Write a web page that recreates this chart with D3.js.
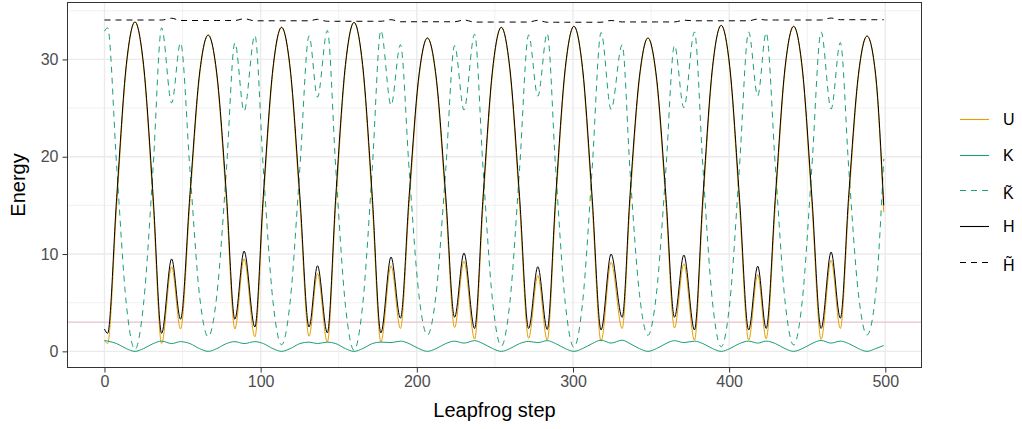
<!DOCTYPE html>
<html>
<head>
<meta charset="utf-8">
<script src="https://cdn.jsdelivr.net/npm/d3@7"></script>
<style>
body { margin: 0; background: #fff; }
svg { display: block; }
text { font-family: "Liberation Sans", Arial, sans-serif; }
</style>
</head>
<body>
<div id="chart"></div>
<script>
const steps = [0, 2, 7.8, 14.0, 19.5, 25.0, 31.2, 36.6, 43.0, 48.7,
  54.7, 60.9, 66.4, 71.9, 78.1, 83.5, 89.4, 96.3,
  101.7, 107.9, 113.4, 118.9, 125.1, 131.0, 136.4, 142.7,
  148.1, 154.3, 159.8, 165.3, 171.5, 177.0, 183.5, 189.5,
  195.1, 201.3, 206.8, 212.3, 218.5, 224.2, 230.2, 237.0,
  242.4, 248.6, 254.1, 259.6, 265.8, 271.6, 277.5, 283.5,
  288.9, 295.1, 300.6, 306.1, 312.3, 318.0, 324.4, 331.5,
  336.5, 342.6, 348.0, 353.4, 359.5, 365.0, 371.0, 377.8,
  383.2, 389.4, 394.9, 400.4, 406.6, 412.5, 418.3, 423.7,
  429.6, 435.8, 441.3, 446.8, 453.0, 458.9, 465.3, 471.2,
  476.6, 482.8, 488.3, 493.8, 499];

const uVals = [1.15, 0.8, 15.0, 29.2, 33.85, 29.2, 15.0, 0.8, 8.7, 2.3,
  15.3, 28.3, 32.5, 28.3, 15.3, 2.3, 9.5, 1.5,
  15.2, 28.85, 33.3, 28.85, 15.2, 1.55, 8.0, 0.95,
  15.1, 29.2, 33.8, 29.2, 15.1, 0.95, 8.8, 2.35,
  15.2, 28.0, 32.2, 28.05, 15.25, 2.45, 9.25, 1.25,
  15.0, 28.8, 33.3, 28.8, 15.1, 1.33, 7.8, 1.15,
  15.0, 28.9, 33.4, 28.9, 15.0, 1.05, 9.15, 2.35,
  15.2, 28.0, 32.2, 28.0, 15.2, 2.4, 9.0, 1.15,
  15.05, 29.0, 33.5, 29.0, 15.05, 1.15, 7.9, 1.3,
  15.1, 28.9, 33.4, 28.9, 15.05, 1.23, 9.35, 2.35,
  15.3, 28.2, 32.4, 28.2, 14.3];

const kVals = [1.1, 1.05, 0.8, 0.28, 0, 0.28, 0.8, 1.05, 0.8, 1.0,
  0.8, 0.28, 0, 0.28, 0.8, 1.0, 0.8, 1.0,
  0.8, 0.28, 0, 0.28, 0.8, 0.95, 0.8, 0.95,
  0.8, 0.28, 0, 0.28, 0.8, 0.95, 0.9, 1.05,
  0.8, 0.28, 0, 0.28, 0.8, 1.05, 0.85, 1.1,
  0.8, 0.28, 0, 0.28, 0.8, 1.02, 0.9, 1.1,
  0.8, 0.28, 0, 0.28, 0.8, 1.15, 0.85, 1.15,
  0.8, 0.28, 0, 0.28, 0.8, 1.1, 0.9, 1.05,
  0.8, 0.28, 0, 0.28, 0.8, 1.05, 0.85, 1.05,
  0.8, 0.28, 0, 0.28, 0.8, 1.12, 0.85, 1.05,
  0.8, 0.28, 0, 0.28, 0.6];

const ktVals = [32.9, 33.25, 19.05, 4.85, 0.2, 4.85, 19.05, 33.25, 25.53, 31.7,
  18.7, 5.7, 1.5, 5.7, 18.7, 31.7, 24.68, 32.47,
  18.77, 5.12, 0.67, 5.12, 18.77, 32.42, 26.12, 32.97,
  18.82, 4.72, 0.12, 4.72, 18.82, 32.97, 25.28, 31.52,
  18.67, 5.87, 1.67, 5.82, 18.62, 31.42, 24.8, 32.59,
  18.84, 5.04, 0.54, 5.04, 18.74, 32.51, 26.22, 32.67,
  18.82, 4.92, 0.42, 4.92, 18.82, 32.77, 24.85, 31.5,
  18.65, 5.85, 1.65, 5.85, 18.65, 31.45, 25.03, 32.82,
  18.92, 4.97, 0.47, 4.97, 18.92, 32.82, 26.25, 32.75,
  18.95, 5.15, 0.65, 5.15, 19.0, 32.82, 24.9, 31.73,
  18.78, 5.88, 1.68, 5.88, 19.78];

const hVals = [2.3, 1.85, 15.8, 29.5, 33.85, 29.5, 15.8, 1.85, 9.5, 3.3,
  16.1, 28.6, 32.5, 28.6, 16.1, 3.3, 10.3, 2.5,
  16.0, 29.13, 33.3, 29.13, 16.0, 2.5, 8.8, 1.9,
  15.9, 29.48, 33.8, 29.48, 15.9, 1.9, 9.7, 3.4,
  16.0, 28.28, 32.2, 28.33, 16.05, 3.5, 10.1, 2.35,
  15.8, 29.08, 33.3, 29.08, 15.9, 2.35, 8.7, 2.25,
  15.8, 29.18, 33.4, 29.18, 15.8, 2.2, 10.0, 3.5,
  16.0, 28.28, 32.2, 28.28, 16.0, 3.5, 9.9, 2.2,
  15.85, 29.28, 33.5, 29.28, 15.85, 2.2, 8.75, 2.35,
  15.9, 29.18, 33.4, 29.18, 15.85, 2.35, 10.2, 3.4,
  16.1, 28.48, 32.4, 28.48, 15.0];

const htVals = [34.05, 34.05, 34.05, 34.05, 34.05, 34.05, 34.05, 34.05, 34.23, 34.0,
  34.0, 34.0, 34.0, 34.0, 34.0, 34.0, 34.18, 33.97,
  33.97, 33.97, 33.97, 33.97, 33.97, 33.97, 34.12, 33.92,
  33.92, 33.92, 33.92, 33.92, 33.92, 33.92, 34.08, 33.87,
  33.87, 33.87, 33.87, 33.87, 33.87, 33.87, 34.05, 33.84,
  33.84, 33.84, 33.84, 33.84, 33.84, 33.84, 34.02, 33.82,
  33.82, 33.82, 33.82, 33.82, 33.82, 33.82, 34.0, 33.85,
  33.85, 33.85, 33.85, 33.85, 33.85, 33.85, 34.03, 33.97,
  33.97, 33.97, 33.97, 33.97, 33.97, 33.97, 34.15, 34.05,
  34.05, 34.05, 34.05, 34.05, 34.05, 34.05, 34.25, 34.08,
  34.08, 34.08, 34.08, 34.08, 34.08];

const refLevel = 3.0;
const xTicks = [0, 100, 200, 300, 400, 500];
const yTicks = [0, 10, 20, 30];
const legendLabels = ["U", "K", "K\u0303", "H", "H\u0303"];

const series = [
  { label: legendLabels[0], values: uVals, color: "#E69F00", dash: null },
  { label: legendLabels[1], values: kVals, color: "#1B9E77", dash: null },
  { label: legendLabels[2], values: ktVals, color: "#1B9E77", dash: "6,5" },
  { label: legendLabels[3], values: hVals, color: "#000000", dash: null },
  { label: legendLabels[4], values: htVals, color: "#000000", dash: "6,5" }
];

const width = 1022, height = 429;
const panel = { left: 67, right: 922, top: 2, bottom: 368 };

const svg = d3.select("#chart").append("svg")
  .attr("width", width)
  .attr("height", height);

const x = d3.scaleLinear().domain([-24, 523.5]).range([panel.left, panel.right]);
const y = d3.scaleLinear().domain([-1.71, 35.9]).range([panel.bottom, panel.top]);

// grid (theme_bw style)
const grid = svg.append("g");
const xMinor = d3.range(50, 500, 100);
const yMinor = [5, 15, 25, 35];
grid.selectAll(".xminor").data(xMinor).enter().append("line")
  .attr("x1", d => x(d)).attr("x2", d => x(d))
  .attr("y1", panel.top).attr("y2", panel.bottom)
  .attr("stroke", "#EBEBEB").attr("stroke-width", 0.7);
grid.selectAll(".yminor").data(yMinor).enter().append("line")
  .attr("x1", panel.left).attr("x2", panel.right)
  .attr("y1", d => y(d)).attr("y2", d => y(d))
  .attr("stroke", "#EBEBEB").attr("stroke-width", 0.7);
grid.selectAll(".xmajor").data(xTicks).enter().append("line")
  .attr("x1", d => x(d)).attr("x2", d => x(d))
  .attr("y1", panel.top).attr("y2", panel.bottom)
  .attr("stroke", "#EBEBEB").attr("stroke-width", 1.4);
grid.selectAll(".ymajor").data(yTicks).enter().append("line")
  .attr("x1", panel.left).attr("x2", panel.right)
  .attr("y1", d => y(d)).attr("y2", d => y(d))
  .attr("stroke", "#EBEBEB").attr("stroke-width", 1.4);

// reference line
svg.append("line")
  .attr("x1", panel.left).attr("x2", panel.right)
  .attr("y1", y(refLevel)).attr("y2", y(refLevel))
  .attr("stroke", "#E6C3CB").attr("stroke-width", 1.1);

// curves
const line = d3.line()
  .x((d, i) => x(steps[i]))
  .y(d => y(d))
  .curve(d3.curveMonotoneX);

svg.append("g").selectAll("path")
  .data(series)
  .enter()
  .append("path")
  .attr("d", d => line(d.values))
  .attr("fill", "none")
  .attr("stroke", d => d.color)
  .attr("stroke-width", 1)
  .attr("stroke-dasharray", d => d.dash);

// panel border
svg.append("rect")
  .attr("x", panel.left + 0.5).attr("y", panel.top + 0.5)
  .attr("width", panel.right - panel.left - 1)
  .attr("height", panel.bottom - panel.top - 1)
  .attr("fill", "none").attr("stroke", "#333333").attr("stroke-width", 1);

// axes
svg.append("g")
  .attr("transform", "translate(0," + panel.bottom + ")")
  .call(d3.axisBottom(x).tickValues(xTicks).tickSizeInner(4.5).tickSizeOuter(0).tickPadding(3));
svg.append("g")
  .attr("transform", "translate(" + panel.left + ",0)")
  .call(d3.axisLeft(y).tickValues(yTicks).tickSizeInner(4.5).tickSizeOuter(0).tickPadding(4));

svg.selectAll(".domain").remove();
svg.selectAll(".tick line").attr("stroke", "#333333").attr("stroke-width", 1);
svg.selectAll(".tick text")
  .attr("fill", "#4D4D4D")
  .style("font-size", "16px")
  .style("font-family", "'Liberation Sans', Arial, sans-serif");

// axis titles
svg.append("text")
  .attr("x", (panel.left + panel.right) / 2)
  .attr("y", 417)
  .attr("text-anchor", "middle")
  .style("font-size", "20px")
  .text("Leapfrog step");

svg.append("text")
  .attr("transform", "translate(25," + ((panel.top + panel.bottom) / 2) + ") rotate(-90)")
  .attr("text-anchor", "middle")
  .style("font-size", "20px")
  .text("Energy");

// legend
const legend = svg.append("g");
const legendY = [119.5, 155.5, 190.5, 226.5, 262.5];
const labelShift = [0, 0, 3, 0, 2.5];
series.forEach(function(s, i) {
  legend.append("line")
    .attr("x1", 960).attr("x2", 989)
    .attr("y1", legendY[i]).attr("y2", legendY[i])
    .attr("stroke", s.color)
    .attr("stroke-width", 1.1)
    .attr("stroke-dasharray", s.dash);
  legend.append("text")
    .attr("x", 1003)
    .attr("y", legendY[i] + labelShift[i])
    .attr("dy", "0.36em")
    .style("font-size", "16px")
    .text(s.label);
});
</script>
</body>
</html>
